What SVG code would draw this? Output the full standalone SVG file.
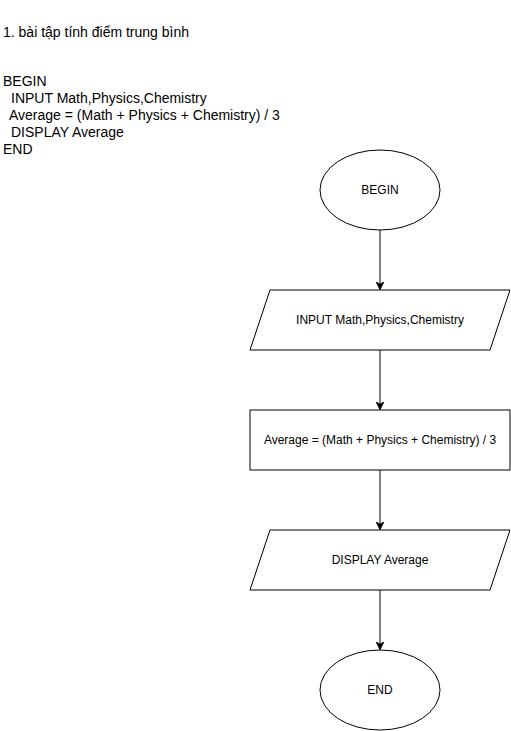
<svg xmlns="http://www.w3.org/2000/svg" width="511" height="731" viewBox="0 0 511 731">
<defs>
<style>
.shape{fill:#fff;stroke:#000;stroke-width:1}
.lbl{font-family:"Liberation Sans",Arial,sans-serif;font-size:12px;fill:#000;text-anchor:middle}
.txt{font-family:"Liberation Sans",Arial,sans-serif;font-size:14px;fill:#000}
.edge{fill:none;stroke:#000;stroke-width:1}
</style>
<marker id="arr" viewBox="0 0 10 10" refX="9" refY="5" markerWidth="8" markerHeight="8" markerUnits="userSpaceOnUse" orient="auto">
<path d="M0,0 L10,5 L0,10 L3,5 Z" fill="#000" stroke="#000" stroke-width="1"/>
</marker>
</defs>
<rect width="511" height="731" fill="#fff"/>
<g id="title"><text class="txt" x="3" y="37">1. bài tập tính điểm trung bình</text></g>
<g id="pseudocode">
<text class="txt" x="3" y="86">BEGIN</text>
<text class="txt" x="11" y="103">INPUT Math,Physics,Chemistry</text>
<text class="txt" x="9" y="120">Average = (Math + Physics + Chemistry) / 3</text>
<text class="txt" x="11" y="137">DISPLAY Average</text>
<text class="txt" x="3" y="154">END</text>
</g>
<g id="connectors">
<path class="edge" d="M380,230 L380,289" marker-end="url(#arr)"/>
<path class="edge" d="M380,350 L380,409" marker-end="url(#arr)"/>
<path class="edge" d="M380,470 L380,529" marker-end="url(#arr)"/>
<path class="edge" d="M380,590 L380,649" marker-end="url(#arr)"/>
</g>
<g id="begin"><ellipse class="shape" cx="380" cy="190" rx="60" ry="40"/><text class="lbl" x="380" y="194">BEGIN</text></g>
<g id="input"><polygon class="shape" points="270,290 510,290 490,350 250,350"/><text class="lbl" x="380" y="324">INPUT Math,Physics,Chemistry</text></g>
<g id="calc"><rect class="shape" x="250" y="410" width="260" height="60"/><text class="lbl" x="380" y="444">Average = (Math + Physics + Chemistry) / 3</text></g>
<g id="display"><polygon class="shape" points="270,530 510,530 490,590 250,590"/><text class="lbl" x="380" y="564">DISPLAY Average</text></g>
<g id="end"><ellipse class="shape" cx="380" cy="690" rx="60" ry="40"/><text class="lbl" x="380" y="694">END</text></g>
</svg>
